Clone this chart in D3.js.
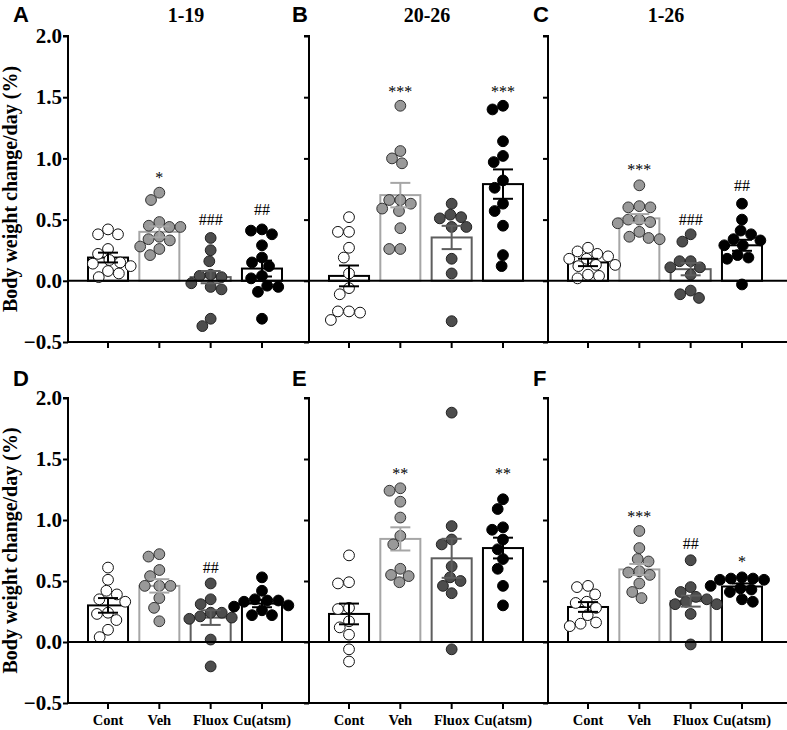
<!DOCTYPE html>
<html>
<head>
<meta charset="utf-8">
<script src="https://cdn.jsdelivr.net/npm/d3@7"></script>
<style>
  html, body { margin: 0; padding: 0; background: #fff; }
  svg { display: block; }
</style>
</head>
<body>
<svg id="chart" width="787" height="730"></svg>
<script>
// ---------------- DATA ----------------
const categories = ["Cont", "Veh", "Fluox", "Cu(atsm)"];
const panelLetters = ["A", "B", "C", "D", "E", "F"];
const panelTitles = ["1-19", "20-26", "1-26", "", "", ""];
const yTicks = [-0.5, 0, 0.5, 1.0, 1.5, 2.0];
const yLabel = "Body weight change/day (%)";

// individual animals, per group (Cont, Veh, Fluox, Cu(atsm))
const pointsA = [
  [0.42, 0.38, 0.38, 0.26, 0.22, 0.17, 0.15, 0.14, 0.12, 0.08, 0.06, 0.03],
  [0.72, 0.66, 0.48, 0.45, 0.44, 0.44, 0.36, 0.34, 0.33, 0.28, 0.26, 0.21],
  [0.35, 0.25, 0.16, 0.05, 0.04, 0.03, -0.02, -0.05, -0.07, -0.31, -0.37],
  [0.42, 0.41, 0.38, 0.29, 0.19, 0.15, 0.12, 0.04, 0.02, -0.04, -0.05, -0.09, -0.31]
];
const pointsB = [
  [0.52, 0.40, 0.40, 0.27, 0.19, 0.06, -0.06, -0.11, -0.25, -0.26, -0.25, -0.32],
  [1.43, 1.06, 1.00, 0.96, 0.66, 0.66, 0.63, 0.59, 0.57, 0.43, 0.26, 0.26],
  [0.63, 0.54, 0.52, 0.51, 0.44, 0.44, 0.18, 0.06, -0.33],
  [1.43, 1.40, 1.14, 1.02, 0.97, 0.82, 0.76, 0.63, 0.57, 0.45, 0.21, 0.12]
];
const pointsC = [
  [0.27, 0.24, 0.22, 0.20, 0.18, 0.18, 0.13, 0.13, 0.12, 0.05, 0.04, 0.02],
  [0.78, 0.61, 0.60, 0.60, 0.50, 0.50, 0.48, 0.47, 0.40, 0.36, 0.35, 0.34],
  [0.38, 0.32, 0.16, 0.16, 0.11, 0.11, 0.05, -0.08, -0.11, -0.14],
  [0.63, 0.50, 0.41, 0.38, 0.34, 0.33, 0.29, 0.29, 0.21, 0.19, 0.18, -0.03]
];
const pointsD = [
  [0.61, 0.51, 0.42, 0.39, 0.35, 0.33, 0.24, 0.23, 0.18, 0.10, 0.04],
  [0.72, 0.70, 0.59, 0.54, 0.46, 0.46, 0.46, 0.36, 0.28, 0.17],
  [0.48, 0.35, 0.31, 0.24, 0.24, 0.21, 0.20, 0.19, 0.02, -0.20],
  [0.53, 0.42, 0.35, 0.34, 0.34, 0.33, 0.30, 0.29, 0.26, 0.22, 0.22]
];
const pointsE = [
  [0.71, 0.49, 0.48, 0.28, 0.27, 0.17, 0.12, 0.06, -0.06, -0.16],
  [1.26, 1.24, 1.15, 1.02, 0.87, 0.80, 0.60, 0.55, 0.54, 0.49],
  [1.88, 0.95, 0.84, 0.80, 0.62, 0.53, 0.50, 0.46, 0.40, -0.06],
  [1.17, 1.09, 0.94, 0.92, 0.84, 0.76, 0.68, 0.60, 0.46, 0.30]
];
const pointsF = [
  [0.46, 0.45, 0.39, 0.33, 0.32, 0.28, 0.22, 0.16, 0.15, 0.13],
  [0.91, 0.77, 0.68, 0.66, 0.58, 0.57, 0.55, 0.48, 0.41, 0.36],
  [0.67, 0.45, 0.41, 0.37, 0.35, 0.33, 0.31, 0.31, 0.23, -0.02],
  [0.53, 0.52, 0.52, 0.51, 0.51, 0.46, 0.44, 0.43, 0.41, 0.35, 0.33]
];

// group means and SEM as drawn
const meansA = [0.19, 0.40, 0.03, 0.10];
const semsA  = [0.04, 0.045, 0.05, 0.065];
const meansB = [0.04, 0.70, 0.354, 0.79];
const semsB  = [0.085, 0.10, 0.095, 0.12];
const meansC = [0.15, 0.51, 0.095, 0.29];
const semsC  = [0.03, 0.035, 0.05, 0.045];
const meansD = [0.30, 0.46, 0.20, 0.315];
const semsD  = [0.06, 0.055, 0.06, 0.03];
const meansE = [0.23, 0.845, 0.686, 0.77];
const semsE  = [0.085, 0.095, 0.16, 0.085];
const meansF = [0.287, 0.595, 0.335, 0.455];
const semsF  = [0.04, 0.045, 0.045, 0.025];

// significance marks and the value where each mark sits
const sigA = ["", "*", "###", "##"];     const sigYA = [null, 0.865, 0.50, 0.58];
const sigB = ["", "***", "", "***"];     const sigYB = [null, 1.57, null, 1.57];
const sigC = ["", "***", "###", "##"];   const sigYC = [null, 0.93, 0.50, 0.78];
const sigD = ["", "", "##", ""];         const sigYD = [null, null, 0.607, null];
const sigE = ["", "**", "", "**"];       const sigYE = [null, 1.40, null, 1.40];
const sigF = ["", "***", "##", "*"];     const sigYF = [null, 1.05, 0.81, 0.68];

// ---------------- STYLE / LAYOUT ----------------
const pointFill   = ["#ffffff", "#999999", "#4d4d4d", "#000000"];
const pointStroke = ["#111111", "#333333", "#222222", "#000000"];
const barStroke   = ["#000000", "#a6a6a6", "#5e5e5e", "#000000"];

const axisXs = [68, 309, 548];
const rowY = [[342, 36], [703, 398]];
const letterX = [13, 292, 533];
const letterY = [22, 386];
const serif = "'Liberation Serif','Times New Roman',serif";
const sans = "'Liberation Sans',Arial,sans-serif";

const panels = [
  {pts: pointsA, means: meansA, sems: semsA, sig: sigA, sigY: sigYA},
  {pts: pointsB, means: meansB, sems: semsB, sig: sigB, sigY: sigYB},
  {pts: pointsC, means: meansC, sems: semsC, sig: sigC, sigY: sigYC},
  {pts: pointsD, means: meansD, sems: semsD, sig: sigD, sigY: sigYD},
  {pts: pointsE, means: meansE, sems: semsE, sig: sigE, sigY: sigYE},
  {pts: pointsF, means: meansF, sems: semsF, sig: sigF, sigY: sigYF}
];

const svg = d3.select("#chart");
const R = 5.4;

function swarm(pys, r) {
  const order = pys.map((v, i) => i).sort((a, b) => pys[a] - pys[b]);
  const placed = [];
  const xs = new Array(pys.length).fill(0);
  const D = 2 * r + 0.3;
  order.forEach(i => {
    const py = pys[i];
    const cands = [0];
    placed.forEach(p => {
      const dy = py - p.y;
      if (Math.abs(dy) < D) {
        const d = Math.sqrt(D * D - dy * dy);
        cands.push(p.x + d, p.x - d);
      }
    });
    cands.sort((a, b) => Math.abs(a) - Math.abs(b) || a - b);
    let chosen = cands[0];
    for (const c of cands) {
      if (placed.every(p => (p.x - c) ** 2 + (p.y - py) ** 2 >= D * D - 1e-6)) { chosen = c; break; }
    }
    placed.push({x: chosen, y: py});
    xs[i] = chosen;
  });
  return xs;
}

panels.forEach((p, pi) => {
  const row = Math.floor(pi / 3), col = pi % 3;
  const ax = axisXs[col];
  const y = d3.scaleLinear().domain([-0.5, 2.0]).range(rowY[row]);
  const x = d3.scaleBand().domain(categories).range([ax + 20, ax + 214]).paddingInner(0.22);
  const g = svg.append("g");

  // bars
  g.selectAll("rect.bar").data(categories).join("rect")
    .attr("x", c => x(c)).attr("width", x.bandwidth())
    .attr("y", (c, i) => y(Math.max(0, p.means[i])))
    .attr("height", (c, i) => Math.abs(y(p.means[i]) - y(0)))
    .attr("fill", "#fff").attr("stroke", (c, i) => barStroke[i]).attr("stroke-width", 2);

  // points
  categories.forEach((c, i) => {
    const pys = p.pts[i].map(v => y(v));
    const xs = swarm(pys, R);
    const cx = x(c) + x.bandwidth() / 2;
    g.selectAll(null).data(p.pts[i]).join("circle")
      .attr("cx", (v, k) => cx + xs[k]).attr("cy", v => y(v)).attr("r", R)
      .attr("fill", pointFill[i]).attr("stroke", pointStroke[i]).attr("stroke-width", 1);
  });

  // error bars
  categories.forEach((c, i) => {
    const cx = x(c) + x.bandwidth() / 2;
    const hi = y(p.means[i] + p.sems[i]), lo = y(p.means[i] - p.sems[i]);
    const eg = g.append("g").attr("stroke", barStroke[i]).attr("stroke-width", 2);
    eg.append("line").attr("x1", cx).attr("x2", cx).attr("y1", hi).attr("y2", lo);
    eg.append("line").attr("x1", cx - 10).attr("x2", cx + 10).attr("y1", hi).attr("y2", hi);
    eg.append("line").attr("x1", cx - 10).attr("x2", cx + 10).attr("y1", lo).attr("y2", lo);
  });

  // significance marks
  categories.forEach((c, i) => {
    if (!p.sig[i]) return;
    const cx = x(c) + x.bandwidth() / 2;
    g.append("text").attr("x", cx).attr("y", y(p.sigY[i]) + (p.sig[i][0] === "*" ? 8 : 5.5))
      .attr("text-anchor", "middle").attr("font-family", serif).attr("font-size", 16)
      .attr("fill", "#000").text(p.sig[i]);
  });

  // y axis
  const yAxis = d3.axisLeft(y).tickValues(yTicks).tickSize(5).tickPadding(1)
    .tickFormat(col === 0 ? d3.format(".1f") : () => "");
  const ya = g.append("g").attr("transform", `translate(${ax},0)`).call(yAxis);
  ya.select(".domain").attr("stroke-width", 2).attr("d", `M-5,${y(2)}H0V${y(-0.5)}`);
  ya.selectAll(".tick line").attr("stroke-width", 2);
  ya.selectAll(".tick text").attr("font-family", serif).attr("font-weight", "bold")
    .attr("font-size", 21).attr("fill", "#000");

  // x axis at -0.5
  const xAxis = d3.axisBottom(x).tickSize(6).tickPadding(6)
    .tickFormat(row === 1 ? (d => d) : () => "");
  const xa = g.append("g").attr("transform", `translate(0,${y(-0.5)})`).call(xAxis);
  xa.select(".domain").remove();
  xa.selectAll(".tick line").attr("stroke-width", 2);
  xa.selectAll(".tick text").attr("font-family", serif).attr("font-weight", "bold")
    .attr("font-size", 14.5).attr("fill", "#000");

  // panel letter and title
  svg.append("text").attr("x", letterX[col]).attr("y", letterY[row])
    .attr("font-family", sans).attr("font-weight", "bold").attr("font-size", 22)
    .text(panelLetters[pi]);
  if (panelTitles[pi]) {
    svg.append("text").attr("x", ax + 118).attr("y", letterY[row])
      .attr("text-anchor", "middle").attr("font-family", serif).attr("font-weight", "bold")
      .attr("font-size", 20).text(panelTitles[pi]);
  }
});

// horizontal lines at 0 and -0.5 spanning all panels in each row
[0, 1].forEach(row => {
  const y = d3.scaleLinear().domain([-0.5, 2.0]).range(rowY[row]);
  svg.append("line").attr("x1", axisXs[0]).attr("x2", 787).attr("y1", y(0)).attr("y2", y(0))
    .attr("stroke", "#000").attr("stroke-width", 2);
  svg.append("line").attr("x1", axisXs[0] - 1).attr("x2", 787).attr("y1", y(-0.5)).attr("y2", y(-0.5))
    .attr("stroke", "#000").attr("stroke-width", 2);
  svg.append("text").attr("transform", `translate(17,${(rowY[row][0] + rowY[row][1]) / 2}) rotate(-90)`)
    .attr("text-anchor", "middle").attr("font-family", serif).attr("font-weight", "bold")
    .attr("font-size", 20).text(yLabel);
});
</script>
</body>
</html>
